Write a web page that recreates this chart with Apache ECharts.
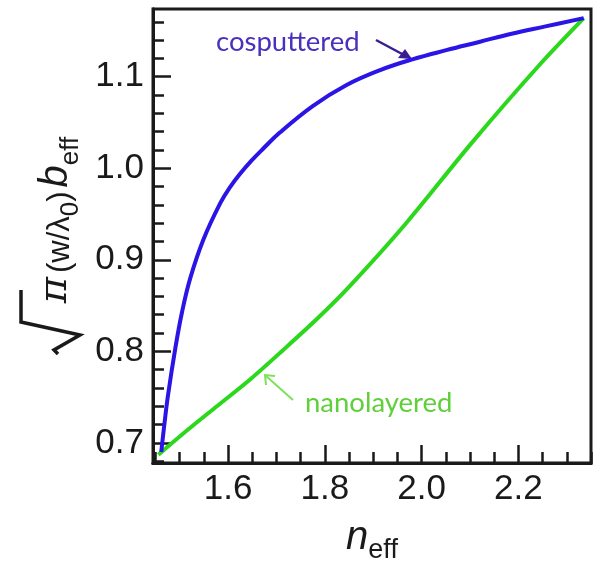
<!DOCTYPE html>
<html>
<head>
<meta charset="utf-8">
<script src="https://cdn.jsdelivr.net/npm/echarts@6.0.0/dist/echarts.min.js"></script>
<style>
  html, body { margin: 0; padding: 0; background: #fff; }
  #chart { width: 595px; height: 565px; }
</style>
</head>
<body>
<div id="chart"></div>
<script>
// values
var cosputteredN = [1.462, 1.468, 1.476, 1.491, 1.505, 1.522, 1.549, 1.584, 1.605, 1.625, 1.648, 1.670, 1.707, 1.775, 1.845, 1.913, 1.981, 2.051, 2.119, 2.186, 2.256, 2.335];
var cosputteredB = [0.690, 0.718, 0.752, 0.803, 0.843, 0.880, 0.922, 0.962, 0.980, 0.994, 1.008, 1.020, 1.039, 1.068, 1.091, 1.107, 1.119, 1.129, 1.138, 1.147, 1.155, 1.164];
var nanolayeredN = [1.456, 1.507, 1.577, 1.645, 1.713, 1.783, 1.851, 1.968, 2.104, 2.242, 2.335];
var nanolayeredB = [0.687, 0.710, 0.740, 0.769, 0.801, 0.835, 0.871, 0.940, 1.028, 1.112, 1.164];

var xMajorTicks = [1.6, 1.8, 2.0, 2.2];
var xMinorTicks = [1.45, 1.5, 1.55, 1.65, 1.7, 1.75, 1.85, 1.9, 1.95, 2.05, 2.1, 2.15, 2.25, 2.3, 2.35];
var yMajorTicks = [0.7, 0.8, 0.9, 1.0, 1.1];
var yMinorTicks = [0.68, 0.72, 0.74, 0.76, 0.78, 0.82, 0.84, 0.86, 0.88, 0.92, 0.94, 0.96, 0.98, 1.02, 1.04, 1.06, 1.08, 1.12, 1.14, 1.16];

function pairs(xs, ys) {
  return xs.map(function (x, i) { return [x, ys[i]]; });
}

var chart = echarts.init(document.getElementById('chart'));
var font = 'Liberation Sans, Arial, sans-serif';
var ink = '#1a1a1a';

function xAxisOf(ticks, len, labels) {
  return {
    type: 'value', position: 'bottom', min: 1.445, max: 2.35,
    axisLine: { show: true, lineStyle: { color: ink, width: 3 } },
    axisTick: { show: true, inside: true, length: len, customValues: ticks, lineStyle: { color: ink, width: 2.5 } },
    axisLabel: { show: labels, customValues: ticks, margin: 9, fontSize: 35, fontFamily: font, color: ink,
      formatter: function (v) { return v.toFixed(1); } },
    splitLine: { show: false }
  };
}
function yAxisOf(ticks, len, labels) {
  return {
    type: 'value', position: 'left', min: 0.678, max: 1.174,
    axisLine: { show: true, lineStyle: { color: ink, width: 3 } },
    axisTick: { show: true, inside: true, length: len, customValues: ticks, lineStyle: { color: ink, width: 2.5 } },
    axisLabel: { show: labels, customValues: ticks, margin: 9, fontSize: 35, fontFamily: font, color: ink,
      formatter: function (v) { return v.toFixed(1); } },
    splitLine: { show: false }
  };
}

var xMain = xAxisOf(xMajorTicks, 18, true);
xMain.name = '{n|n}{s|eff}';
xMain.nameLocation = 'middle';
xMain.nameGap = 55;
xMain.nameTextStyle = {
  rich: {
    n: { fontSize: 40, fontStyle: 'italic', fontFamily: font, color: ink, verticalAlign: 'bottom', padding: [0, 0, 6, 0] },
    s: { fontSize: 27, fontFamily: font, color: ink, verticalAlign: 'bottom' }
  }
};

// the radical sign is drawn as a graphic polyline; leave room for it with a blank token
var yMain = yAxisOf(yMajorTicks, 18, true);
yMain.name = '{v| }{p|π}{g| }{t|(w/λ}{z|0}{t|)}{g| }{b|b}{z|eff}';
yMain.nameLocation = 'middle';
yMain.nameRotate = 90;
yMain.nameGap = 67;
yMain.nameTextStyle = {
  rich: {
    v: { fontSize: 30, width: 32, fontFamily: font, verticalAlign: 'bottom', padding: [0, 0, 10, 0] },
    p: { fontSize: 40, fontStyle: 'italic', fontFamily: 'DejaVu Serif', color: ink, verticalAlign: 'bottom', padding: [0, 0, 10, 0] },
    g: { fontSize: 14, fontFamily: font, color: ink, verticalAlign: 'bottom', padding: [0, 0, 10, 0] },
    t: { fontSize: 31, fontFamily: font, color: ink, verticalAlign: 'bottom', padding: [0, 0, 10, 0] },
    z: { fontSize: 26, fontFamily: font, color: ink, verticalAlign: 'bottom', padding: [0, 0, 2, 0] },
    b: { fontSize: 40, fontStyle: 'italic', fontFamily: font, color: ink, verticalAlign: 'bottom', padding: [0, 0, 10, 0] }
  }
};

var option = {
  backgroundColor: '#ffffff',
  animation: false,
  grid: { left: 153, top: 9, width: 438, height: 454, outerBoundsMode: 'none', containLabel: false,
    show: true, borderColor: ink, borderWidth: 3, backgroundColor: 'transparent' },
  xAxis: [xMain, xAxisOf(xMinorTicks, 11, false)],
  yAxis: [yMain, yAxisOf(yMinorTicks, 11, false)],
  series: [
    {
      name: 'cosputtered', type: 'line', data: pairs(cosputteredN, cosputteredB),
      showSymbol: false, smooth: 0.4,
      lineStyle: { color: '#2b14e6', width: 4 }, z: 3
    },
    {
      name: 'nanolayered', type: 'line', data: pairs(nanolayeredN, nanolayeredB),
      showSymbol: false, smooth: 0.3,
      lineStyle: { color: '#2bd81c', width: 4 }, z: 2
    }
  ],
  graphic: [
    // radical of the y title (rotated)
    { type: 'polyline', shape: { points: [[21, 290], [21, 322], [80, 335], [54, 350], [58, 354]] },
      style: { stroke: ink, lineWidth: 3.5, fill: null, lineJoin: 'miter' } },
    { type: 'text', left: 216, top: 28, style: { text: 'cosputtered', font: '27.5px Lato, sans-serif', fill: '#4b2fbd' } },
    { type: 'line', shape: { x1: 376, y1: 40, x2: 404, y2: 55 }, style: { stroke: '#3b1e8e', lineWidth: 2.5 } },
    { type: 'polygon', shape: { points: [[412, 59], [398, 58], [405, 49]] }, style: { fill: '#3b1e8e' } },
    { type: 'text', left: 305, top: 389, style: { text: 'nanolayered', font: '27.5px Lato, sans-serif', fill: '#5fcf3a' } },
    { type: 'line', shape: { x1: 293, y1: 400, x2: 266, y2: 376 }, style: { stroke: '#7fe05a', lineWidth: 2 } },
    { type: 'polyline', shape: { points: [[266, 385], [265, 375], [275, 376]] }, style: { stroke: '#7fe05a', lineWidth: 2, fill: null } }
  ]
};
chart.setOption(option);
</script>
</body>
</html>
